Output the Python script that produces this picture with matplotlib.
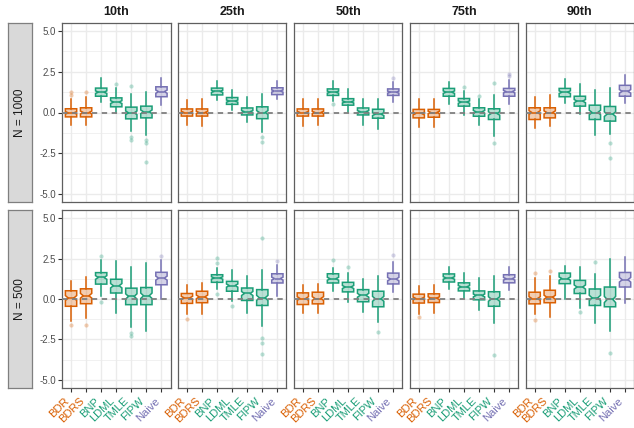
import numpy as np
import matplotlib
matplotlib.use("Agg")
import matplotlib.pyplot as plt
from matplotlib.ticker import MultipleLocator, FixedLocator

plt.rcParams['font.family'] = ['Liberation Sans', 'DejaVu Sans']

methods = ["BDR", "BDRS", "BNP", "LDML", "TMLE", "FIPW", "Naive"]
method_colors = ["#D95F02", "#D95F02", "#1B9E77", "#1B9E77", "#1B9E77", "#1B9E77", "#7570B3"]
quantiles = ["10th", "25th", "50th", "75th", "90th"]
sizes = ["N = 1000", "N = 500"]
n_reps = 100  # replications behind each box, used for the notch width

# box summaries, indexed [size][quantile][method]
whislo = [
    [[-0.78, -0.78, 0.64, -0.02, -1.15, -1.40, 0.49],
     [-0.75, -0.80, 0.75, 0.15, -0.60, -1.20, 0.80],
     [-0.80, -0.78, 0.70, 0.05, -0.75, -1.00, 0.65],
     [-0.90, -0.90, 0.53, -0.16, -0.78, -1.42, 0.53],
     [-0.95, -0.84, 0.60, -0.12, -1.36, -1.30, 0.60]],
    [[-1.37, -1.20, 0.16, -0.86, -1.73, -1.98, 0.00],
     [-0.95, -0.95, 0.62, -0.13, -0.89, -1.66, 0.17],
     [-0.89, -0.85, 0.48, -0.17, -0.81, -1.40, 0.42],
     [-0.90, -0.85, 0.60, 0.05, -0.70, -1.50, 0.55],
     [-0.95, -1.09, 0.03, -0.54, -1.50, -1.97, -0.23]],
]
q1 = [
    [[-0.27, -0.27, 1.00, 0.35, -0.39, -0.33, 0.97],
     [-0.22, -0.22, 1.08, 0.50, -0.15, -0.38, 1.10],
     [-0.22, -0.22, 1.05, 0.45, -0.15, -0.35, 1.05],
     [-0.33, -0.29, 1.00, 0.39, -0.23, -0.43, 1.00],
     [-0.43, -0.33, 0.97, 0.39, -0.43, -0.53, 1.00]],
    [[-0.45, -0.29, 0.92, 0.37, -0.35, -0.35, 0.88],
     [-0.27, -0.23, 1.03, 0.48, -0.09, -0.40, 0.99],
     [-0.34, -0.30, 0.99, 0.44, -0.17, -0.48, 0.93],
     [-0.25, -0.22, 1.05, 0.50, -0.05, -0.45, 1.00],
     [-0.30, -0.23, 0.95, 0.34, -0.40, -0.48, 0.74]],
]
med = [
    [[-0.02, 0.00, 1.25, 0.64, -0.02, 0.04, 1.28],
     [0.00, 0.00, 1.30, 0.70, 0.05, 0.00, 1.32],
     [0.00, 0.00, 1.25, 0.65, 0.05, -0.10, 1.25],
     [-0.06, 0.00, 1.25, 0.64, 0.04, -0.06, 1.28],
     [0.00, 0.00, 1.25, 0.70, 0.00, -0.10, 1.30]],
    [[0.06, 0.20, 1.33, 0.82, 0.16, 0.20, 1.29],
     [0.07, 0.13, 1.30, 0.83, 0.34, 0.07, 1.26],
     [0.03, 0.03, 1.25, 0.74, 0.23, 0.01, 1.23],
     [0.03, 0.05, 1.30, 0.75, 0.22, 0.00, 1.25],
     [0.03, 0.11, 1.26, 0.74, 0.07, -0.03, 1.19]],
]
q3 = [
    [[0.23, 0.29, 1.50, 0.90, 0.33, 0.39, 1.58],
     [0.22, 0.22, 1.50, 0.92, 0.28, 0.35, 1.52],
     [0.22, 0.22, 1.45, 0.85, 0.28, 0.20, 1.45],
     [0.19, 0.19, 1.48, 0.86, 0.29, 0.23, 1.48],
     [0.29, 0.29, 1.48, 1.00, 0.45, 0.37, 1.67]],
    [[0.51, 0.63, 1.63, 1.22, 0.67, 0.71, 1.65],
     [0.34, 0.48, 1.50, 1.09, 0.68, 0.58, 1.56],
     [0.38, 0.42, 1.56, 1.03, 0.58, 0.48, 1.60],
     [0.30, 0.32, 1.55, 1.00, 0.50, 0.45, 1.50],
     [0.42, 0.54, 1.60, 1.15, 0.62, 0.74, 1.64]],
]
whishi = [
    [[0.80, 0.97, 2.10, 1.52, 1.15, 1.28, 2.14],
     [0.78, 0.82, 1.95, 1.40, 0.95, 1.15, 1.95],
     [0.80, 0.80, 1.95, 1.45, 0.85, 0.85, 1.90],
     [0.80, 0.86, 1.90, 1.32, 0.84, 1.05, 2.00],
     [0.97, 1.07, 2.04, 1.73, 1.38, 1.52, 2.28]],
    [[1.14, 1.39, 2.41, 2.35, 1.96, 2.20, 2.41],
     [0.89, 0.99, 1.91, 1.80, 1.44, 1.80, 2.11],
     [0.89, 0.93, 1.91, 1.60, 1.23, 1.40, 2.26],
     [0.80, 0.85, 2.00, 1.60, 1.30, 1.40, 2.00],
     [1.30, 1.40, 2.07, 1.95, 1.56, 2.46, 2.58]],
]
fliers = [
    [[[1.05, 1.28], [1.28], [], [1.77], [1.63, -1.50, -1.67], [-1.67, -1.87, -3.07], []],
     [[], [], [], [], [], [-1.50, -1.80], []],
     [[], [], [0.55], [], [], [], [2.10]],
     [[], [], [], [1.56], [1.00], [1.83, -1.87], [2.24, 2.35]],
     [[], [], [], [], [], [-1.87, -2.82], []]],
    [[[-1.63], [-1.61], [2.67, -0.16], [], [-2.08, -2.29], [], [2.67]],
     [[-1.21], [], [2.21, 2.52, 0.32], [-0.44], [], [3.74, -2.38, -2.72, -3.40], [2.36]],
     [[], [], [2.38], [2.00], [], [-2.01], [2.72]],
     [[-1.10], [], [], [], [], [-3.47], []],
     [[1.60, -1.30], [1.70], [], [-0.81], [2.26], [-3.33], []]],
]

W, H = 634, 428
fig = plt.figure(figsize=(W / 100, H / 100), dpi=100)

panel_left = [62, 177.9, 293.8, 409.7, 525.6]
panel_w = 108.5
row_top = [23, 210]
row_h = [179, 178]

border = "#5F5F5F"
grid_col = "#EBEBEB"

for r in range(2):
    for c in range(5):
        ax = fig.add_axes([panel_left[c] / W, 1 - (row_top[r] + row_h[r]) / H,
                           panel_w / W, row_h[r] / H])
        stats = []
        for m in range(len(methods)):
            iqr = q3[r][c][m] - q1[r][c][m]
            half = 1.58 * iqr / np.sqrt(n_reps)
            stats.append(dict(whislo=whislo[r][c][m], q1=q1[r][c][m], med=med[r][c][m],
                              q3=q3[r][c][m], whishi=whishi[r][c][m],
                              cilo=med[r][c][m] - half, cihi=med[r][c][m] + half,
                              fliers=fliers[r][c][m]))
        bp = ax.bxp(stats, positions=np.arange(1, 8), widths=0.75, patch_artist=True,
                    shownotches=True, showcaps=False, manage_ticks=False)
        for m, col in enumerate(method_colors):
            box = bp['boxes'][m]
            box.set_facecolor(matplotlib.colors.to_rgba(col, 0.3))
            box.set_edgecolor(col)
            box.set_linewidth(1.1)
            bp['medians'][m].set_color(col)
            bp['medians'][m].set_linewidth(1.1)
            for wl in bp['whiskers'][2 * m:2 * m + 2]:
                wl.set_color(col)
                wl.set_linewidth(1.1)
            fl = bp['fliers'][m]
            fl.set_marker('o')
            fl.set_markersize(3)
            fl.set_markerfacecolor(col)
            fl.set_markeredgecolor('none')
            fl.set_alpha(0.3)

        ax.axhline(0, color="#7F7F7F", lw=1.3, ls=(0, (3, 2.5)), zorder=5)

        ax.set_xlim(0.4, 7.6)
        ax.set_ylim(-5.5, 5.5)
        ax.yaxis.set_major_locator(FixedLocator([-5, -2.5, 0, 2.5, 5]))
        ax.yaxis.set_minor_locator(MultipleLocator(1.25))
        ax.set_xticks(np.arange(1, 8))
        ax.set_axisbelow(True)
        ax.grid(which='major', color=grid_col, lw=1.0)
        ax.grid(which='minor', axis='y', color=grid_col, lw=0.5)
        for s in ax.spines.values():
            s.set_color(border)
            s.set_linewidth(0.9)
        ax.tick_params(which='minor', length=0)
        ax.tick_params(which='major', length=2.7, width=0.8, color="#333333",
                       labelsize=7, labelcolor="#4D4D4D", pad=1.5)

        if c == 0:
            ax.set_yticklabels(["-5.0", "-2.5", "0.0", "2.5", "5.0"])
        else:
            ax.tick_params(axis='y', length=0, labelleft=False)

        if r == 1:
            ax.tick_params(axis='x', pad=3)
            ax.set_xticklabels(methods, rotation=45, ha='right', va='top', fontsize=8)
            for lab, col in zip(ax.get_xticklabels(), method_colors):
                lab.set_color(col)
        else:
            ax.tick_params(axis='x', length=0, labelbottom=False)

        if r == 0:
            fig.text((panel_left[c] + panel_w / 2) / W, 1 - 12 / H, quantiles[c],
                     ha='center', va='center', fontsize=9, fontweight='bold', color="#1A1A1A")

    # row strip on the left
    sax = fig.add_axes([8 / W, 1 - (row_top[r] + row_h[r]) / H, 24 / W, row_h[r] / H])
    sax.set_facecolor("#D9D9D9")
    sax.set_xticks([])
    sax.set_yticks([])
    for s in sax.spines.values():
        s.set_color("#7F7F7F")
        s.set_linewidth(0.9)
    sax.text(0.5, 0.5, sizes[r], rotation=90, ha='center', va='center',
             fontsize=8.5, color="#1A1A1A", transform=sax.transAxes)

fig.savefig("out.png", dpi=100)
